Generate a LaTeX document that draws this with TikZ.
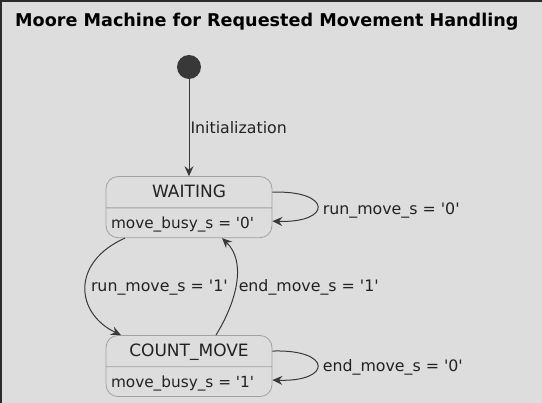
\documentclass[tikz,border=0pt]{standalone}
\usepackage{fontspec}
\setmainfont{DejaVu Sans}
\usepackage{tikz}
\usetikzlibrary{shapes,arrows.meta,positioning,calc}
\definecolor{bg}{HTML}{DDDDDD}
\definecolor{frame}{HTML}{2B2B2B}
\definecolor{ink}{HTML}{383838}
\definecolor{boxline}{HTML}{A0A0A0}
\definecolor{txt}{HTML}{222222}
\newcommand{\sq}{\textquotesingle}
\newcommand{\namefont}{\fontsize{17pt}{20pt}\selectfont}
\newcommand{\bodyfont}{\fontsize{15.3pt}{18pt}\selectfont}
\newcommand{\lblfont}{\fontsize{15.8pt}{18pt}\selectfont}

\begin{document}
\begin{tikzpicture}[x=1pt, y=1pt, node distance=97pt,
    state/.style={rectangle split, rectangle split parts=2, draw=boxline, fill=bg,
        rounded corners=12pt, inner xsep=5pt, inner ysep=0pt, text=txt, line width=0.8pt},
    edge/.style={draw=ink, line width=1pt, -{Stealth[length=10pt,width=9pt,inset=3.5pt]}},
    lbl/.style={text=txt, font=\lblfont, inner sep=3pt}]
        \fill[bg] (0,0) rectangle (542,-403);
        \fill[frame] (0,0) rectangle (2,-403);
        \fill[frame] (0,0) rectangle (542,-2);
        \useasboundingbox (0,0) rectangle (542,-403);

        \node (title) [anchor=west, inner sep=0pt, text=black, font=\bfseries\fontsize{17.6pt}{20pt}\selectfont] at (15,-22) {Moore Machine for Requested Movement Handling};

        \node (init) [circle, fill=ink, inner sep=0pt, minimum size=24pt] at (189,-67) {};
        \node (waiting) [state, below=of init] {\makebox[156pt][c]{\namefont\rule[-10pt]{0pt}{30.5pt}WAITING}\nodepart{two}\makebox[156pt][l]{\bodyfont\rule[-9pt]{0pt}{29pt}move\_busy\_s = \sq0\sq}};
        \node (count) [state, below=of waiting] {\makebox[156pt][c]{\namefont\rule[-10pt]{0pt}{30.5pt}COUNT\_MOVE}\nodepart{two}\makebox[156pt][l]{\bodyfont\rule[-9pt]{0pt}{29pt}move\_busy\_s = \sq1\sq}};

        \draw[edge] (init) -- node[lbl, right, inner sep=1pt] {Initialization} (waiting);

        \draw[edge] ([xshift=-64pt]waiting.south) .. controls +(-54pt,-24pt) and +(-46pt,22pt) .. ([xshift=-68pt]count.north) node[lbl, right, pos=0.5, inner sep=5pt] {run\_move\_s = \sq1\sq};
        \draw[edge] ([xshift=27pt]count.north) .. controls +(22pt,36pt) and +(24pt,-23pt) .. ([xshift=33pt]waiting.south) node[lbl, right, pos=0.5, inner sep=2pt, yshift=-6pt] {end\_move\_s = \sq1\sq};

        % Self loops
        \draw[edge] ([yshift=15pt]waiting.east) .. controls +(60pt,2pt) and +(60pt,-2pt) .. ([yshift=-14pt]waiting.east) node[lbl, right, pos=0.5, inner sep=5pt, yshift=-4pt] {run\_move\_s = \sq0\sq};
        \draw[edge] ([yshift=15pt]count.east) .. controls +(60pt,2pt) and +(60pt,-2pt) .. ([yshift=-14pt]count.east) node[lbl, right, pos=0.5, inner sep=5pt, yshift=-2pt] {end\_move\_s = \sq0\sq};
\end{tikzpicture}
\end{document}
